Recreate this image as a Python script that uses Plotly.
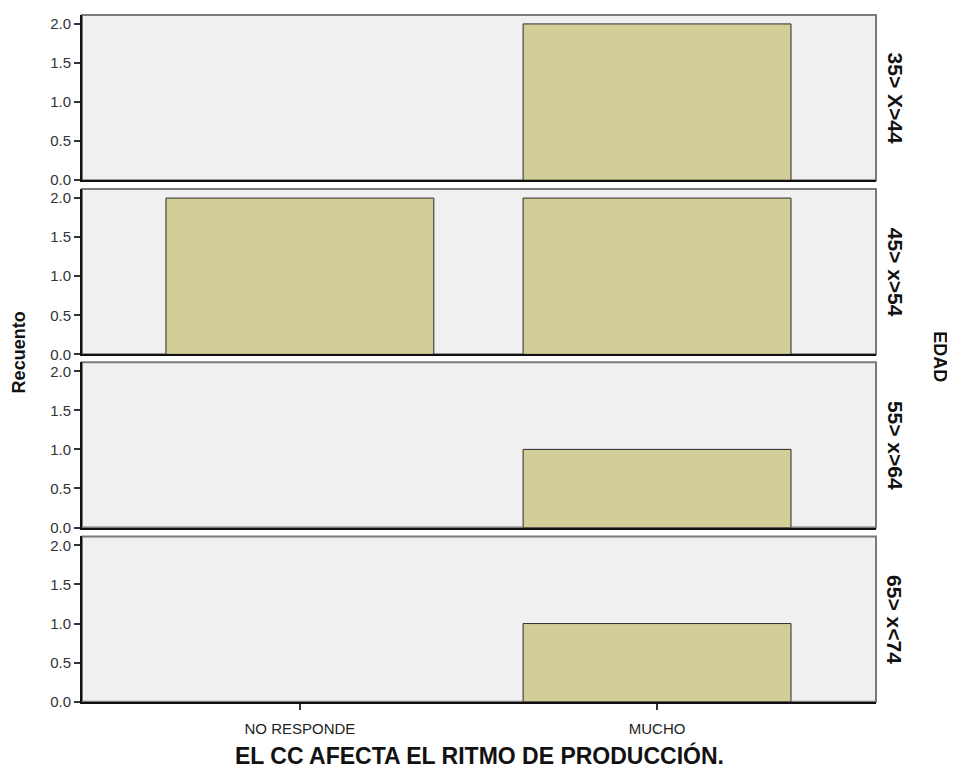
import plotly.graph_objects as go

categories = ["NO RESPONDE", "MUCHO"]
panels = ["35> X>44", "45> x>54", "55> x>64", "65> x<74"]
counts = [
    [0, 2],
    [2, 2],
    [0, 1],
    [0, 1],
]
y_ticks = [0.0, 0.5, 1.0, 1.5, 2.0]

OFF = 8  # browser body margin
W, H = 955 - OFF, 776 - OFF


def px(x):
    return (x - OFF) / W


def py(y):
    return 1 - (y - OFF) / H


left, right = 82, 876
panel_tops = [15, 191, 366, 542]
panel_h = 167

fig = go.Figure()
FONT = "Liberation Sans, Arial, sans-serif"

for i, (lab, vals) in enumerate(zip(panels, counts)):
    n = i + 1
    xa = "x" if n == 1 else f"x{n}"
    ya = "y" if n == 1 else f"y{n}"
    yvals = [v if v else None for v in vals]
    fig.add_trace(go.Bar(
        x=[0, 1], y=yvals, width=0.75,
        marker=dict(color="#d3ce98", line=dict(color="#2b2b2b", width=1)),
        xaxis=xa, yaxis=ya, showlegend=False,
        hovertext=categories, hoverinfo="text+y",
    ))
    top = panel_tops[i]
    y0 = py(top + panel_h)
    y1 = py(top)
    xkey = "xaxis" if n == 1 else f"xaxis{n}"
    ykey = "yaxis" if n == 1 else f"yaxis{n}"
    fig.update_layout({
        xkey: dict(
            domain=[px(left), px(right)], anchor=ya, range=[-0.61, 1.613],
            tickmode="array", tickvals=[0, 1],
            ticktext=categories if n == 4 else ["", ""],
            showticklabels=(n == 4), ticks="outside" if n == 4 else "",
            ticklen=6, tickwidth=2, tickcolor="#333", showgrid=False, zeroline=False,
            showline=True, linecolor="#111", linewidth=2,
            ticklabelstandoff=6,
            tickfont=dict(family=FONT, size=15, color="#222"),
            fixedrange=True,
        ),
        ykey: dict(
            domain=[y0, y1], anchor=xa, range=[0, 2.115],
            tickmode="array", tickvals=y_ticks,
            ticktext=[f"{v:.1f}" for v in y_ticks],
            ticks="outside", ticklen=6, tickwidth=2, tickcolor="#333",
            showgrid=False, zeroline=False,
            showline=True, linecolor="#111", linewidth=2,
            tickfont=dict(family=FONT, size=15, color="#333"),
            fixedrange=True,
        ),
    })
    fig.add_shape(type="rect", xref="paper", yref="paper",
                  x0=px(left), x1=px(right), y0=y0, y1=y1,
                  line=dict(color="#7a7a7a", width=2), layer="below")
    fig.add_annotation(text=f"<b>{lab}</b>", xref="paper", yref="paper",
                       x=px(895), y=(y0 + y1) / 2, textangle=90,
                       showarrow=False, font=dict(family=FONT, size=21, color="#111"),
                       xanchor="center", yanchor="middle")

fig.add_annotation(text="<b>EDAD</b>", xref="paper", yref="paper",
                   x=px(940), y=py(360), textangle=90, showarrow=False,
                   font=dict(family=FONT, size=18, color="#111"),
                   xanchor="center", yanchor="middle")
fig.add_annotation(text="<b>Recuento</b>", xref="paper", yref="paper",
                   x=px(19), y=py(356), textangle=-90, showarrow=False,
                   font=dict(family=FONT, size=18, color="#111"),
                   xanchor="center", yanchor="middle")
fig.add_annotation(text="<b>EL CC AFECTA EL RITMO DE PRODUCCIÓN.</b>", xref="paper", yref="paper",
                   x=px(479), y=py(763), showarrow=False,
                   font=dict(family=FONT, size=23, color="#111"),
                   xanchor="center", yanchor="middle")

fig.update_layout(
    width=W, height=H,
    margin=dict(l=0, r=0, t=0, b=0),
    paper_bgcolor="white", plot_bgcolor="#f0f0f0",
)

fig.write_html("out.html")
